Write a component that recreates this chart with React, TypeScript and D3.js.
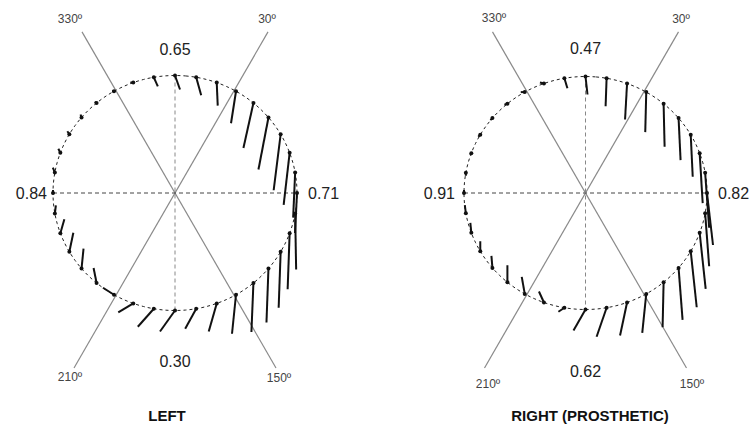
import * as d3 from 'd3';
import React from 'react';

// Sample angles, clockwise from the top (degrees)
const angles = [
  0, 10, 20, 30, 40, 50, 60, 70, 80, 90, 100, 110, 120, 130, 140, 150, 160, 170,
  180, 190, 200, 210, 220, 230, 240, 250, 260, 270, 280, 290, 300, 310, 320, 330, 340, 350,
];

// Vector components per angle (x to the right, y downward)
const leftDx = [5, 5, 1, -5, -10, -10, -7, -6, -2, -2, 1, -2, -2, -2, -2, -4, -8, -11, -15, -16, -15, -11, -3, 2, 4, 4, 1, 0, -2, -2, -2, -1, -2, -2, -3, 4];
const leftDy = [14, 18, 23, 32, 45, 52, 56, 52, 45, 40, 56, 56, 56, 54, 49, 39, 28, 20, 21, 18, 9, -7, -15, -20, -19, -14, -8, -3, -5, -4, -3, -3, -1, 0, 0, 9];
const rightDx = [2, -1, -2, -1, 1, 2, 2, 3, 4, 6, 4, 6, 6, 4, -1, -4, -7, -10, -12, -6, -5, -3, 0, -1, 0, -1, -1, 0, 0, -1, -2, -2, -3, -4, -4, 3];
const rightDy = [18, 28, 36, 40, 43, 42, 42, 50, 55, 52, 53, 56, 56, 52, 45, 39, 33, 29, 21, 4, -11, -17, -17, -12, -10, -10, -8, -3, 3, 2, 2, 2, 1, 0, -1, 10];

// Quadrant values: top, right, bottom, left
const leftValues = ['0.65', '0.71', '0.30', '0.84'];
const rightValues = ['0.47', '0.82', '0.62', '0.91'];
const axisLabels = ['330º', '30º', '210º', '150º'];
const titles = ['LEFT', 'RIGHT (PROSTHETIC)'];

const font = 'Liberation Sans, Arial, sans-serif';

type PanelProps = {
  cx: number;
  cy: number;
  rx: number;
  ry: number;
  dx: number[];
  dy: number[];
  values: string[];
  title: string;
  titleX: number;
  topY: number;
  bottomY: number;
  leftX: number;
  rightX: number;
  labelPos: [number, number][];
};

function Panel(p: PanelProps) {
  const x = d3.scaleLinear().domain([-1, 1]).range([p.cx - p.rx, p.cx + p.rx]);
  const y = d3.scaleLinear().domain([-1, 1]).range([p.cy + p.ry, p.cy - p.ry]);
  const vec = d3.scaleLinear().domain([0, 1]).range([0, 1]);
  const rad = (a: number) => (a * Math.PI) / 180;

  const pts = angles.map((a, i) => ({
    px: x(Math.sin(rad(a))),
    py: y(Math.cos(rad(a))),
    vx: vec(p.dx[i]),
    vy: vec(p.dy[i]),
  }));

  const ring = d3
    .line<number>()
    .x(a => x(Math.sin(rad(a))))
    .y(a => y(Math.cos(rad(a))))
    .curve(d3.curveCardinalClosed);

  // diagonal reference lines at 30/210 and 330/150
  const up = 186;
  const down = 202;
  const diag = [30, 330].map(a => ({
    x1: p.cx + up * Math.sin(rad(a)),
    y1: p.cy - up * Math.cos(rad(a)),
    x2: p.cx - down * Math.sin(rad(a)),
    y2: p.cy + down * Math.cos(rad(a)),
  }));

  return (
    <g>
      {diag.map((d, i) => (
        <line key={i} x1={d.x1} y1={d.y1} x2={d.x2} y2={d.y2} stroke="#8a8a8a" strokeWidth={1.2} />
      ))}
      <line x1={x(-1)} y1={p.cy} x2={x(1)} y2={p.cy} stroke="#444" strokeWidth={1} strokeDasharray="4,3" />
      <line x1={p.cx} y1={y(1)} x2={p.cx} y2={y(-1)} stroke="#888" strokeWidth={1} strokeDasharray="4,3" />
      <path d={ring(d3.range(0, 360, 5)) ?? ''} fill="none" stroke="#222" strokeWidth={1} strokeDasharray="3,3" />
      {pts.map((d, i) => (
        <g key={i}>
          <line x1={d.px} y1={d.py} x2={d.px + d.vx} y2={d.py + d.vy} stroke="#111" strokeWidth={2} />
          <circle cx={d.px} cy={d.py} r={2} fill="#111" />
        </g>
      ))}
      <g fontFamily={font} fontSize={16} fill="#222">
        <text x={p.cx} y={p.topY} textAnchor="middle">{p.values[0]}</text>
        <text x={p.rightX} y={p.cy + 6} textAnchor="start">{p.values[1]}</text>
        <text x={p.cx} y={p.bottomY} textAnchor="middle">{p.values[2]}</text>
        <text x={p.leftX} y={p.cy + 6} textAnchor="end">{p.values[3]}</text>
      </g>
      <g fontFamily={font} fontSize={12} fill="#444">
        {axisLabels.map((t, i) => (
          <text key={t} x={p.labelPos[i][0]} y={p.labelPos[i][1]} textAnchor="middle">{t}</text>
        ))}
      </g>
      <text x={p.titleX} y={421} textAnchor="middle" fontFamily={font} fontSize={15} fontWeight="bold" fill="#111">
        {p.title}
      </text>
    </g>
  );
}

export default function App() {
  return (
    <svg width={753} height={425} style={{ position: 'absolute', left: 0, top: 0, background: '#fff' }}>
      <rect width={753} height={425} fill="#fff" />
      <Panel
        cx={175}
        cy={193}
        rx={122}
        ry={117.5}
        dx={leftDx}
        dy={leftDy}
        values={leftValues}
        title={titles[0]}
        titleX={167}
        topY={55}
        bottomY={367}
        leftX={47}
        rightX={308}
        labelPos={[[70, 23], [267, 23], [70, 381], [279, 382]]}
      />
      <Panel
        cx={585.5}
        cy={193}
        rx={121.5}
        ry={116.5}
        dx={rightDx}
        dy={rightDy}
        values={rightValues}
        title={titles[1]}
        titleX={590}
        topY={54}
        bottomY={377}
        leftX={455}
        rightX={718}
        labelPos={[[494, 22], [681, 23], [488, 388], [692, 388]]}
      />
    </svg>
  );
}
